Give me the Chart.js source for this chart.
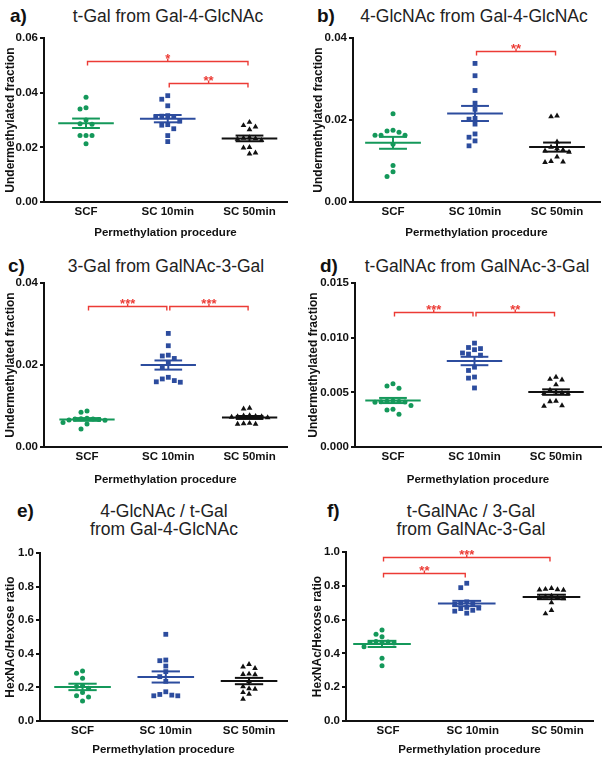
<!DOCTYPE html>
<html>
<head>
<meta charset="utf-8">
<script src="https://cdn.jsdelivr.net/npm/chart.js@4.4.1/dist/chart.umd.min.js"></script>
<style>
  body { margin: 0; background: #fff; width: 608px; height: 762px; position: relative; overflow: hidden;
         font-family: "Liberation Sans", Arial, sans-serif; }
  canvas { position: absolute; }
  .lbl { position: absolute; font-weight: bold; font-size: 19px; line-height: 21px; color: #111; }
  .ttl { position: absolute; width: 300px; text-align: center; font-size: 17.5px; line-height: 20px; color: #222; }
  .ttl2 { line-height: 17.5px; }
</style>
</head>
<body>
<div class="lbl" style="left:10px;top:5px">a)</div>
<div class="ttl" style="left:18px;top:6px">t-Gal from Gal-4-GlcNAc</div>
<div class="lbl" style="left:317px;top:5px">b)</div>
<div class="ttl" style="left:324px;top:6px">4-GlcNAc from Gal-4-GlcNAc</div>
<div class="lbl" style="left:8px;top:255px">c)</div>
<div class="ttl" style="left:16px;top:256px">3-Gal from GalNAc-3-Gal</div>
<div class="lbl" style="left:320px;top:255px">d)</div>
<div class="ttl" style="left:327px;top:256px">t-GalNAc from GalNAc-3-Gal</div>
<div class="lbl" style="left:17px;top:500px">e)</div>
<div class="ttl ttl2" style="left:14px;top:503px">4-GlcNAc / t-Gal<br>from Gal-4-GlcNAc</div>
<div class="lbl" style="left:327px;top:500px">f)</div>
<div class="ttl ttl2" style="left:321px;top:503px">t-GalNAc / 3-Gal<br>from GalNAc-3-Gal</div>

<script>
const categories = ["SCF", "SC 10min", "SC 50min"];

// a) t-Gal from Gal-4-GlcNAc
const tGalSCF = [0.0383, 0.0345, 0.034, 0.03, 0.0286, 0.0284, 0.0243, 0.0243, 0.0243, 0.0213];
const tGalSC10 = [0.0389, 0.0376, 0.0352, 0.0316, 0.0314, 0.0313, 0.0312, 0.0296, 0.0283, 0.0281, 0.0268, 0.0243, 0.0221];
const tGalSC50 = [0.0292, 0.028, 0.0275, 0.0265, 0.0236, 0.0234, 0.0232, 0.023, 0.0226, 0.02, 0.0198, 0.018, 0.0176];

// b) 4-GlcNAc from Gal-4-GlcNAc
const glcSCF = [0.0215, 0.0175, 0.0173, 0.017, 0.0163, 0.0163, 0.0163, 0.0141, 0.0089, 0.0074, 0.0062];
const glcSC10 = [0.0338, 0.0308, 0.0272, 0.0241, 0.0226, 0.0204, 0.0202, 0.019, 0.0166, 0.0158, 0.0149, 0.0137];
const glcSC50 = [0.021, 0.0208, 0.0147, 0.0134, 0.013, 0.0127, 0.0125, 0.0122, 0.011, 0.0099, 0.0098, 0.0097];

// c) 3-Gal from GalNAc-3-Gal
const galSCF = [0.0088, 0.0085, 0.007, 0.0069, 0.0068, 0.0068, 0.0067, 0.0066, 0.0065, 0.006, 0.0056, 0.0044];
const galSC10 = [0.0277, 0.0247, 0.0224, 0.0222, 0.0216, 0.0204, 0.0194, 0.017, 0.0166, 0.0162, 0.0159, 0.0158];
const galSC50 = [0.0095, 0.0093, 0.0077, 0.0076, 0.0075, 0.0074, 0.0074, 0.0073, 0.0072, 0.0058, 0.0057, 0.0056, 0.0056];

// d) t-GalNAc from GalNAc-3-Gal
const galnacSCF = [0.00578, 0.00558, 0.00538, 0.0042, 0.00418, 0.00416, 0.00414, 0.00412, 0.0041, 0.0038, 0.00346, 0.00338, 0.003];
const galnacSC10 = [0.0095, 0.0091, 0.009, 0.0089, 0.0086, 0.0085, 0.0084, 0.0073, 0.007, 0.0064, 0.0063, 0.0054];
const galnacSC50 = [0.0064, 0.0062, 0.00615, 0.0057, 0.0052, 0.00505, 0.00495, 0.0049, 0.00488, 0.0042, 0.00415, 0.00378, 0.00375];

// e) 4-GlcNAc / t-Gal
const ratioGlcSCF = [0.298, 0.284, 0.254, 0.21, 0.205, 0.195, 0.169, 0.151, 0.143, 0.119];
const ratioGlcSC10 = [0.516, 0.363, 0.359, 0.327, 0.294, 0.264, 0.236, 0.174, 0.158, 0.154, 0.15, 0.15];
const ratioGlcSC50 = [0.337, 0.323, 0.313, 0.28, 0.278, 0.276, 0.236, 0.205, 0.193, 0.19, 0.17, 0.16, 0.131];

// f) t-GalNAc / 3-Gal
const ratioGalSCF = [0.538, 0.513, 0.499, 0.47, 0.468, 0.466, 0.464, 0.462, 0.44, 0.371, 0.327];
const ratioGalSC10 = [0.815, 0.789, 0.705, 0.7, 0.695, 0.69, 0.672, 0.668, 0.665, 0.655, 0.65, 0.638];
const ratioGalSC50 = [0.785, 0.78, 0.778, 0.776, 0.775, 0.74, 0.735, 0.73, 0.728, 0.725, 0.7, 0.655, 0.635];

// significance brackets: [from group, to group, height, stars]
const sigA = [[1, 3, 0.0517, "*"], [2, 3, 0.0434, "**"]];
const sigB = [[2, 3, 0.0369, "**"]];
const sigC = [[1, 2, 0.0345, "***"], [2, 3, 0.0345, "***"]];
const sigD = [[1, 2, 0.01238, "***"], [2, 3, 0.01238, "**"]];
const sigE = [];
const sigF = [[1, 3, 0.972, "***"], [1, 2, 0.8775, "**"]];

const FONT = "'Liberation Sans', Arial, sans-serif";
const RED = "#ec3b35";
const COLORS = ["#14985a", "#2c4c9e", "#111111"];
const STYLES = ["circle", "rect", "triangle"];
const RADII = [2.5, 3.4, 3.3];

// box = canvas [left, top, width, height], area = plot [left, top, right, bottom] (page px)
const panels = [
  { groups: [tGalSCF, tGalSC10, tGalSC50], sig: sigA, yMax: 0.06, step: 0.02, dec: 2,
    yTitle: "Undermethylated fraction", box: [0, 26, 300, 216], area: [44, 38, 287, 202], xr: [0.486, 3.459] },
  { groups: [glcSCF, glcSC10, glcSC50], sig: sigB, yMax: 0.04, step: 0.02, dec: 2,
    yTitle: "Undermethylated fraction", box: [308, 26, 300, 216], area: [353, 38, 600, 202], xr: [0.512, 3.524] },
  { groups: [galSCF, galSC10, galSC50], sig: sigC, yMax: 0.04, step: 0.02, dec: 2,
    yTitle: "Undermethylated fraction", box: [0, 271, 300, 218], area: [44, 283, 287, 447], xr: [0.471, 3.46] },
  { groups: [galnacSCF, galnacSC10, galnacSC50], sig: sigD, yMax: 0.015, step: 0.005, dec: 3,
    yTitle: "Undermethylated fraction", box: [303, 271, 305, 218], area: [355, 283, 601, 447], xr: [0.534, 3.552] },
  { groups: [ratioGlcSCF, ratioGlcSC10, ratioGlcSC50], sig: sigE, yMax: 1, step: 0.2, dec: 1,
    yTitle: "HexNAc/Hexose ratio", box: [0, 538, 300, 221], area: [40, 553, 287, 721], xr: [0.489, 3.456] },
  { groups: [ratioGalSCF, ratioGalSC10, ratioGalSC50], sig: sigF, yMax: 1, step: 0.2, dec: 1,
    yTitle: "HexNAc/Hexose ratio", box: [307, 536, 301, 223], area: [346, 552, 593, 721], xr: [0.575, 3.49], labelOffset: 6 },
];

const mean = (a) => a.reduce((s, v) => s + v, 0) / a.length;
const sem = (a) => {
  const m = mean(a);
  const sd = Math.sqrt(a.reduce((s, v) => s + (v - m) * (v - m), 0) / (a.length - 1));
  return sd / Math.sqrt(a.length);
};

// column scatter: push overlapping points sideways (in pixels)
function swarm(vals, c, pxX, pxY) {
  const step = 6, minDist = 5.5;
  const order = vals.map((v, i) => i).sort((p, q) => vals[q] - vals[p]);
  const placed = [];
  const pts = [];
  order.forEach((i) => {
    const py = vals[i] * pxY;
    let off = 0;
    for (let n = 0; n < 30; n++) {
      off = (n % 2 ? -1 : 1) * Math.ceil(n / 2) * step;
      if (placed.every((q) => Math.hypot(q.x - off, q.y - py) >= minDist)) break;
    }
    placed.push({ x: off, y: py });
    pts.push({ x: c + off / pxX, y: vals[i] });
  });
  return pts;
}

function bracketPlugin(list) {
  return {
    id: "brackets",
    afterDatasetsDraw(chart) {
      const { ctx, scales: { x, y } } = chart;
      ctx.save();
      ctx.strokeStyle = RED;
      ctx.fillStyle = RED;
      ctx.lineWidth = 1.4;
      ctx.font = "bold 13px " + FONT;
      ctx.textAlign = "center";
      ctx.textBaseline = "alphabetic";
      list.forEach(([a, b, lvl, stars]) => {
        const x1 = x.getPixelForValue(a) + 1.5;
        const x2 = x.getPixelForValue(b) - 1.5;
        const yy = Math.round(y.getPixelForValue(lvl)) + 0.5;
        const xm = (x1 + x2) / 2;
        ctx.beginPath();
        ctx.moveTo(x1, yy + 4);
        ctx.lineTo(x1, yy);
        ctx.lineTo(x2, yy);
        ctx.lineTo(x2, yy + 4);
        ctx.moveTo(xm, yy);
        ctx.lineTo(xm, yy - 3);
        ctx.stroke();
        ctx.fillText(stars, xm, yy + 1);
      });
      ctx.restore();
    },
  };
}

function buildChart(p) {
  const [bl, bt, bw, bh] = p.box;
  const [al, at, ar, ab] = p.area;
  const cv = document.createElement("canvas");
  cv.width = bw;
  cv.height = bh;
  cv.style.left = bl + "px";
  cv.style.top = bt + "px";
  cv.style.width = bw + "px";
  cv.style.height = bh + "px";
  document.body.appendChild(cv);

  const datasets = [];
  p.groups.forEach((vals, i) => {
    datasets.push({
      data: vals.map((v) => ({ x: i + 1, y: v })),
      pointStyle: STYLES[i],
      pointRadius: RADII[i],
      pointHoverRadius: RADII[i],
      pointBackgroundColor: COLORS[i],
      pointBorderWidth: 0,
      showLine: false,
    });
  });
  p.groups.forEach((vals, i) => {
    const c = i + 1, m = mean(vals), s = sem(vals), col = COLORS[i];
    const seg = (pts) => datasets.push({
      data: pts, showLine: true, borderColor: col, borderWidth: 2,
      pointRadius: 0, pointHoverRadius: 0, fill: false,
    });
    seg([{ x: c - 0.34, y: m }, { x: c + 0.34, y: m }]);
    seg([{ x: c - 0.17, y: m + s }, { x: c + 0.17, y: m + s }]);
    seg([{ x: c - 0.17, y: m - s }, { x: c + 0.17, y: m - s }]);
    seg([{ x: c, y: m - s }, { x: c, y: m + s }]);
  });

  const tickFont = { family: FONT, size: 11.5, weight: "bold" };
  const chart = new Chart(cv, {
    type: "scatter",
    data: { datasets },
    options: {
      responsive: false,
      animation: false,
      devicePixelRatio: 1,
      events: [],
      layout: { padding: { top: at - bt, right: bl + bw - ar, left: 0, bottom: 0 } },
      plugins: { legend: { display: false }, tooltip: { enabled: false } },
      scales: {
        x: {
          type: "linear",
          min: p.xr[0],
          max: p.xr[1],
          afterBuildTicks: (s) => { s.ticks = categories.map((c, i) => ({ value: i + 1 })); },
          ticks: {
            callback: (v) => categories[Math.round(v) - 1],
            autoSkip: false, maxRotation: 0, padding: 3,
            labelOffset: p.labelOffset || 0,
            color: "#111", font: tickFont,
          },
          grid: { display: false, drawTicks: false },
          border: { display: true, color: "#111", width: 2 },
          title: {
            display: true, text: "Permethylation procedure", color: "#111",
            font: tickFont, padding: { top: 0, bottom: 2 },
          },
          afterFit: (s) => { s.height = bt + bh - ab; },
        },
        y: {
          type: "linear",
          min: 0,
          max: p.yMax,
          ticks: {
            stepSize: p.step, padding: 2, color: "#111", font: tickFont,
            callback: (v) => v.toFixed(p.dec),
          },
          grid: { drawOnChartArea: false, drawTicks: true, tickLength: 4, color: "#111", lineWidth: 2 },
          border: { display: true, color: "#111", width: 2 },
          title: {
            display: true, text: p.yTitle, color: "#111",
            font: { family: FONT, size: 12, weight: "bold" }, padding: { top: 3, bottom: 0 },
          },
          afterFit: (s) => { s.width = al - bl; },
        },
      },
    },
    plugins: [bracketPlugin(p.sig)],
  });

  // spread the dots now that the scales know their pixel size
  const sx = chart.scales.x, sy = chart.scales.y;
  const pxX = sx.getPixelForValue(2) - sx.getPixelForValue(1);
  const pxY = sy.getPixelForValue(0) - sy.getPixelForValue(p.yMax);
  p.groups.forEach((vals, i) => {
    chart.data.datasets[i].data = swarm(vals, i + 1, pxX, pxY / p.yMax);
  });
  chart.update("none");
  return chart;
}

panels.forEach(buildChart);
</script>
</body>
</html>
